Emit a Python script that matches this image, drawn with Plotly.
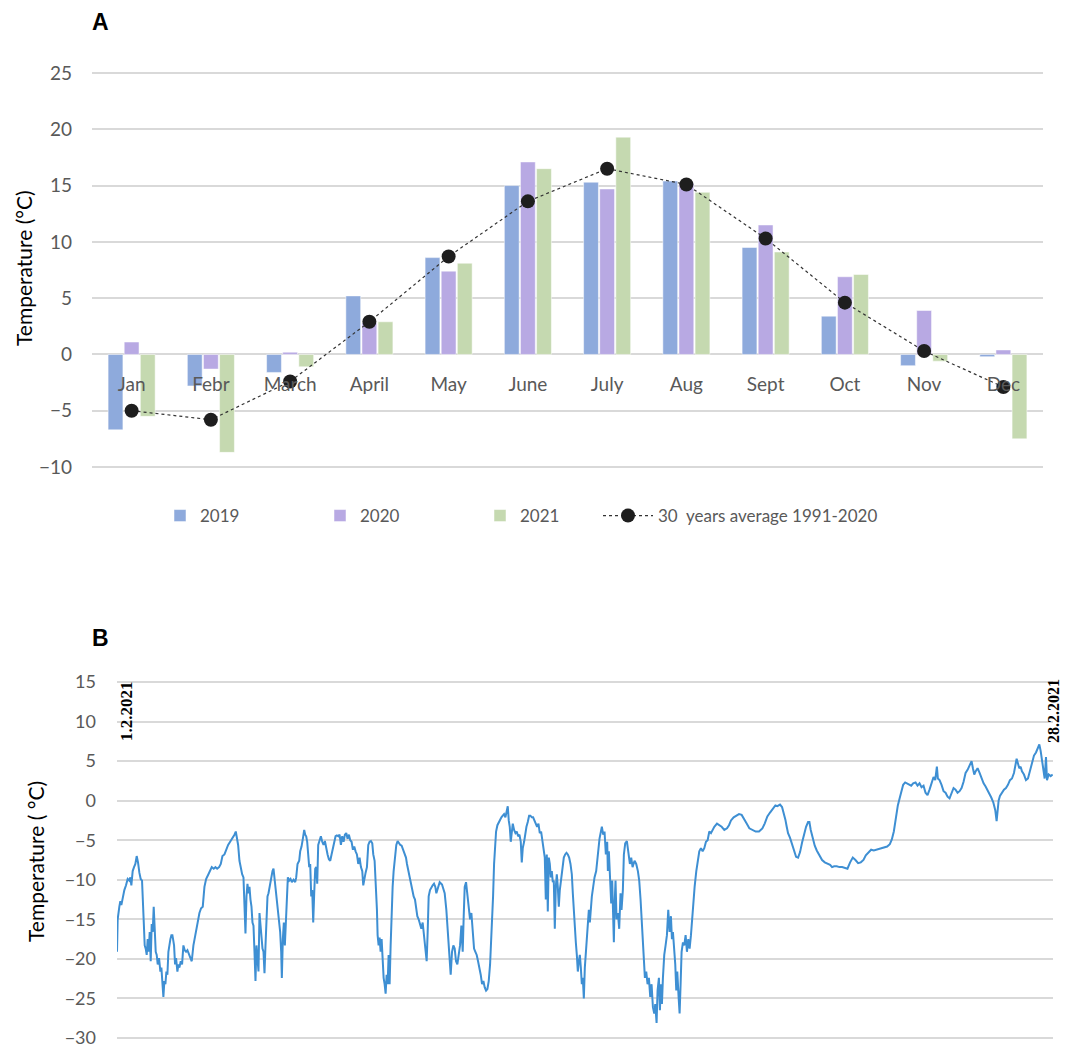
import plotly.graph_objects as go

# ---------------- Panel A data ----------------
months = ["Jan", "Febr", "March", "April", "May", "June", "July", "Aug", "Sept", "Oct", "Nov", "Dec"]
t2019 = [-6.7, -2.8, -1.6, 5.2, 8.6, 15.0, 15.3, 15.4, 9.5, 3.4, -1.0, -0.2]
t2020 = [1.1, -1.3, 0.2, 2.8, 7.4, 17.1, 14.7, 15.2, 11.5, 6.9, 3.9, 0.4]
t2021 = [-5.5, -8.7, -1.1, 2.9, 8.1, 16.5, 19.3, 14.4, 9.1, 7.1, -0.6, -7.5]
avg_1991_2020 = [-5.0, -5.8, -2.4, 2.9, 8.7, 13.6, 16.5, 15.1, 10.3, 4.6, 0.3, -2.9]
yticks_a = [-10, -5, 0, 5, 10, 15, 20, 25]

# ---------------- Panel B data (February 2021, days since 1.2.2021) ----------------
days = [
    0.00, 0.02, 0.07, 0.10, 0.13, 0.17, 0.22, 0.27, 0.32, 0.37, 0.40, 0.43, 0.47, 0.51, 0.55, 0.59, 0.63, 0.67, 0.71, 0.75,
    0.78, 0.81, 0.83, 0.86, 0.89, 0.92, 0.95, 0.98, 1.01, 1.04, 1.07, 1.10, 1.13, 1.16, 1.19, 1.22, 1.26, 1.30, 1.33, 1.36,
    1.39, 1.42, 1.45, 1.48, 1.51, 1.54, 1.57, 1.60, 1.63, 1.66, 1.68, 1.71, 1.74, 1.77, 1.81, 1.84, 1.87, 1.91, 1.95, 1.99,
    2.03, 2.07, 2.11, 2.15, 2.19, 2.24, 2.29, 2.33, 2.37, 2.42, 2.47, 2.52, 2.57, 2.62, 2.67, 2.74, 2.79, 2.84, 2.90, 2.95,
    3.00, 3.06, 3.11, 3.16, 3.22, 3.27, 3.33, 3.39, 3.46, 3.52, 3.56, 3.59, 3.63, 3.67, 3.71, 3.75, 3.79, 3.82, 3.85, 3.88,
    3.91, 3.94, 3.97, 4.00, 4.03, 4.06, 4.09, 4.12, 4.15, 4.18, 4.21, 4.24, 4.27, 4.30, 4.33, 4.36, 4.39, 4.42, 4.45, 4.48,
    4.51, 4.54, 4.57, 4.60, 4.63, 4.66, 4.69, 4.72, 4.75, 4.79,
    4.84, 4.89, 4.92, 4.94, 4.97, 5.00, 5.03, 5.06, 5.09, 5.12, 5.16, 5.20, 5.24, 5.29, 5.34, 5.37, 5.41, 5.46, 5.49, 5.53,
    5.57, 5.61, 5.64, 5.67, 5.70, 5.73, 5.76, 5.79, 5.82, 5.85, 5.88, 5.91, 5.94, 5.97, 6.00, 6.03, 6.07, 6.11, 6.15, 6.19,
    6.23, 6.27, 6.31, 6.35, 6.39, 6.43, 6.47, 6.51, 6.55, 6.59, 6.63, 6.67, 6.71, 6.75, 6.79, 6.83, 6.87, 6.91, 6.95, 6.99,
    7.03, 7.07, 7.11, 7.15, 7.19, 7.23, 7.27, 7.31, 7.35, 7.38, 7.41, 7.45, 7.49, 7.53, 7.57, 7.61, 7.65, 7.68, 7.72, 7.76,
    7.79, 7.81, 7.84, 7.87, 7.90, 7.93, 7.96, 7.99, 8.02, 8.05, 8.08, 8.11, 8.14, 8.17, 8.20, 8.23, 8.26, 8.29, 8.33, 8.37,
    8.41, 8.45, 8.49, 8.53, 8.57, 8.61, 8.66, 8.69, 8.73, 8.77, 8.81, 8.85, 8.89, 8.93, 8.96, 9.00, 9.04, 9.08, 9.12, 9.16,
    9.19, 9.22, 9.25, 9.28, 9.31, 9.34, 9.38, 9.42, 9.46, 9.50, 9.54, 9.57,
    9.67, 9.74, 9.82, 9.87, 9.92, 9.97, 10.00, 10.04, 10.08, 10.12, 10.16, 10.20, 10.24, 10.28, 10.32, 10.36, 10.39, 10.42,
    10.46, 10.50, 10.54, 10.58, 10.62, 10.66, 10.70, 10.74, 10.78, 10.82, 10.86, 10.90, 10.94, 10.98, 11.02, 11.06, 11.10,
    11.14, 11.18, 11.21, 11.24, 11.27, 11.30, 11.33, 11.36, 11.40, 11.44, 11.48, 11.52, 11.56, 11.60, 11.64, 11.68, 11.71,
    11.74, 11.77, 11.80, 11.83, 11.86, 11.90, 11.94, 11.98, 12.02, 12.06, 12.10, 12.13, 12.16, 12.20, 12.23, 12.27, 12.31,
    12.35, 12.39, 12.43, 12.47, 12.51, 12.55, 12.59, 12.63, 12.67, 12.71, 12.75, 12.79, 12.82, 12.85, 12.88, 12.91, 12.94,
    12.97, 13.00, 13.03, 13.06, 13.09, 13.12, 13.15, 13.18, 13.21, 13.24, 13.27, 13.31, 13.35, 13.39, 13.43, 13.47, 13.51,
    13.55, 13.59, 13.63, 13.66, 13.69, 13.72, 13.75, 13.78, 13.81, 13.84, 13.87, 13.90, 13.93, 13.96, 13.99, 14.02, 14.05,
    14.08, 14.11, 14.14, 14.17, 14.20, 14.23, 14.27, 14.31, 14.36,
    14.41, 14.46, 14.53, 14.57, 14.61, 14.65, 14.69, 14.71, 14.74, 14.78, 14.81, 14.84, 14.87, 14.89, 14.91, 14.94, 14.97,
    15.01, 15.05, 15.09, 15.12, 15.16, 15.19, 15.23, 15.28, 15.32, 15.37, 15.41, 15.45, 15.51, 15.56, 15.61, 15.65, 15.69,
    15.72, 15.75, 15.78, 15.82, 15.86, 15.90, 15.94, 15.98, 16.02, 16.06, 16.10, 16.13, 16.17, 16.20, 16.24, 16.27, 16.30,
    16.33, 16.36, 16.40, 16.44, 16.48, 16.52, 16.56, 16.60, 16.63, 16.66, 16.70, 16.73, 16.76, 16.79, 16.83, 16.86, 16.89,
    16.92, 16.96, 17.00, 17.04, 17.08, 17.12, 17.16, 17.20, 17.23, 17.27, 17.31, 17.36, 17.40, 17.45, 17.50, 17.55, 17.60,
    17.65, 17.70, 17.75, 17.80, 17.85, 17.90, 17.98, 18.05, 18.12, 18.20, 18.28, 18.34, 18.40, 18.48, 18.56, 18.64, 18.72,
    18.80, 18.87, 18.95, 19.03, 19.14,
    19.24, 19.34, 19.41, 19.49, 19.57, 19.65, 19.73, 19.79, 19.87, 19.93, 19.99, 20.03, 20.07, 20.11, 20.17, 20.23, 20.29,
    20.35, 20.41, 20.47, 20.53, 20.59, 20.65, 20.71, 20.75, 20.79, 20.85, 20.91, 20.97, 21.05, 21.13, 21.21, 21.29, 21.37,
    21.43, 21.49, 21.57, 21.65, 21.73, 21.81, 21.89, 21.97, 22.05, 22.13, 22.21, 22.29, 22.37, 22.44, 22.52, 22.60, 22.68,
    22.76, 22.84, 22.92, 23.00, 23.08, 23.16, 23.22, 23.28, 23.32, 23.36, 23.40, 23.46, 23.50, 23.56, 23.62, 23.68, 23.74,
    23.80, 23.86, 23.93,
    23.99, 24.05, 24.11, 24.17, 24.23, 24.29, 24.35, 24.41, 24.47, 24.52, 24.57, 24.60, 24.65, 24.71, 24.77, 24.83, 24.89,
    24.95, 25.01, 25.07, 25.13, 25.19, 25.25, 25.31, 25.37, 25.43, 25.49, 25.55, 25.61, 25.65, 25.69, 25.73, 25.79, 25.85,
    25.91, 25.97, 26.03, 26.08, 26.14, 26.20, 26.26, 26.32, 26.36, 26.39, 26.42, 26.46, 26.52, 26.58, 26.64, 26.70, 26.76,
    26.82, 26.88, 26.92, 26.96, 27.00, 27.04, 27.08, 27.12, 27.18, 27.24, 27.30, 27.36, 27.42, 27.48, 27.54, 27.60, 27.64,
    27.68, 27.72, 27.76, 27.80, 27.84, 27.87, 27.92, 27.98, 28.04,
]
temps = [
    -19.1, -15.0, -13.4, -12.7, -13.2, -12.1, -11.3, -10.7, -9.9, -10.1, -9.7, -10.7, -8.9, -8.4, -8.0, -7.0, -7.8, -9.1, -9.9, -10.1,
    -14.6, -16.2, -18.3, -18.7, -19.5, -17.5, -19.1, -16.6, -20.3, -15.6, -16.6, -13.4, -16.2, -19.1, -19.5, -20.7, -19.9, -21.6, -21.1, -22.8,
    -24.8, -22.8, -23.2, -21.6, -22.0, -19.1, -17.9, -17.5, -17.0, -17.0, -17.5, -18.3, -20.7, -19.9, -21.6, -20.7, -21.1, -20.3, -20.7, -18.3,
    -18.9, -19.1, -18.9, -19.3, -19.7, -20.3, -18.3, -17.3, -16.6, -15.6, -14.2, -13.6, -13.4, -10.9, -9.9, -9.3, -8.9, -8.4, -8.6, -8.4,
    -8.6, -8.4, -8.0, -7.0, -6.8, -6.2, -5.6, -5.2, -4.8, -4.3, -3.9, -4.5, -5.6, -7.6, -8.6, -9.3, -9.7, -13.4, -16.8, -12.1,
    -10.5, -11.7, -10.9, -12.5, -13.4, -15.4, -15.8, -19.1, -22.8, -18.3, -19.9, -21.6, -14.2, -16.2, -17.5, -18.7, -19.1, -21.8, -18.3, -15.8,
    -12.1, -11.7, -10.9, -10.1, -9.3, -8.9, -8.6, -9.9, -10.9, -12.1,
    -15.0, -16.6, -19.1, -22.4, -17.5, -15.4, -18.3, -14.6, -11.7, -9.7, -10.1, -9.9, -10.3, -10.0, -10.3, -9.7, -8.0, -7.6, -6.4, -5.8,
    -4.8, -3.7, -4.3, -4.5, -5.2, -6.4, -8.4, -8.0, -12.1, -11.3, -15.4, -11.7, -8.6, -8.4, -10.5, -5.6, -5.0, -4.5, -5.2, -5.6,
    -5.1, -6.2, -6.8, -7.4, -7.6, -6.8, -6.0, -5.2, -4.5, -4.4, -4.5, -4.3, -5.6, -4.5, -5.2, -4.3, -4.1, -4.8, -4.3, -5.0,
    -5.2, -6.2, -5.8, -6.4, -6.8, -8.0, -7.2, -8.4, -8.9, -10.7, -9.9, -9.1, -8.4, -5.6, -5.2, -5.1, -5.4, -6.8, -7.6, -10.5,
    -13.8, -17.0, -18.3, -17.3, -19.1, -17.5, -20.7, -22.4, -23.2, -24.4, -22.0, -23.2, -19.5, -23.2, -18.3, -13.8, -10.9, -8.9, -6.8, -5.6,
    -5.1, -5.4, -5.6, -5.7, -6.2, -6.6, -7.2, -8.0, -8.9, -9.7, -10.7, -11.7, -12.1, -12.5, -13.4, -14.6, -15.0, -15.8, -16.2, -15.4,
    -16.8, -17.5, -19.1, -20.3, -16.6, -12.1, -11.3, -10.9, -10.7, -10.5, -10.9, -11.7,
    -10.3, -10.6, -11.7, -13.8, -17.5, -19.9, -22.0, -19.1, -18.3, -18.7, -20.3, -20.7, -19.1, -18.3, -15.8, -19.1, -14.6, -10.9,
    -10.3, -11.7, -13.8, -15.0, -14.2, -16.2, -18.7, -19.1, -19.5, -20.3, -21.1, -22.0, -23.2, -22.8, -23.6, -24.0, -23.8,
    -22.8, -20.7, -18.3, -15.8, -12.1, -8.0, -5.2, -3.9, -3.1, -2.7, -2.5, -2.1, -1.9, -1.7, -2.1, -1.3, -0.7,
    -2.5, -3.3, -5.2, -3.5, -2.9, -3.7, -4.1, -3.9, -4.5, -4.3, -5.2, -7.8, -6.0, -5.2, -4.3, -3.3, -2.7,
    -1.9, -1.9, -2.1, -2.1, -2.5, -2.7, -3.3, -2.9, -4.1, -3.9, -5.4, -6.4, -7.2, -12.5, -6.8, -14.0, -7.2,
    -8.0, -9.7, -8.9, -10.3, -10.1, -16.2, -10.9, -9.3, -10.9, -13.4, -11.3, -10.1, -8.4, -7.2, -6.8, -6.6, -6.8,
    -7.2, -8.0, -9.3, -11.7, -14.2, -16.2, -17.9, -19.5, -21.6, -20.3, -19.5, -21.1, -23.2, -22.4, -25.0, -21.1, -19.1,
    -16.6, -15.8, -13.8, -15.4, -13.0, -12.1, -10.9, -9.7, -8.9,
    -6.8, -4.8, -3.3, -4.3, -3.9, -6.8, -5.2, -8.9, -6.4, -10.9, -13.0, -10.1, -15.0, -17.9, -13.4, -10.1, -15.0,
    -14.2, -16.2, -11.7, -13.8, -11.3, -6.8, -5.4, -5.1, -6.4, -8.0, -7.2, -8.4, -7.6, -8.0, -8.9, -10.1, -12.5,
    -15.0, -16.6, -20.3, -22.4, -21.6, -23.2, -22.4, -24.8, -23.2, -26.1, -26.9, -25.7, -28.1, -24.0, -22.4, -26.5, -23.2,
    -25.7, -22.4, -19.5, -18.3, -17.0, -13.8, -16.6, -14.6, -17.5, -16.6, -19.1, -20.7, -24.0, -21.6, -24.8, -26.9, -23.2,
    -19.1, -17.9, -18.3, -17.0, -19.1, -17.5, -18.7, -17.0, -15.0, -13.0, -10.9, -8.9, -7.6, -6.4, -6.0, -6.4, -6.0,
    -5.2, -5.0, -3.9, -4.1, -3.7, -3.3, -2.9, -3.1, -3.3, -3.7, -3.5, -3.1, -2.5, -2.1, -1.9, -1.7, -1.8,
    -2.3, -2.9, -3.5, -3.7, -3.9,
    -3.9, -3.5, -2.9, -2.0, -1.5, -1.0, -0.6, -0.7, -0.5, -0.8, -1.6, -2.4, -3.3, -4.1, -4.7, -5.5, -6.3,
    -7.1, -7.2, -6.5, -5.3, -4.3, -3.3, -2.7, -2.7, -3.7, -4.7, -5.7, -6.3, -6.9, -7.5, -7.8, -8.0, -8.1,
    -8.4, -8.3, -8.3, -8.4, -8.4, -8.5, -8.6, -7.8, -7.2, -7.5, -7.9, -7.8, -7.5, -6.9, -6.5, -6.2, -6.3,
    -6.2, -6.1, -6.0, -5.9, -5.8, -5.5, -4.9, -3.9, -2.7, -1.4, -0.6, 0.4, 1.2, 2.0, 2.3, 2.2, 2.1,
    1.9, 2.2, 2.3,
    1.9, 2.2, 1.7, 1.9, 1.0, 0.7, 1.4, 2.2, 3.0, 2.6, 4.3, 2.8, 2.6, 2.0, 1.2, 1.0, 0.5,
    0.3, 1.0, 1.6, 1.4, 1.0, 1.2, 1.6, 2.4, 3.5, 3.9, 4.5, 5.0, 4.1, 3.3, 3.7, 4.1, 3.5,
    2.8, 2.2, 1.8, 1.4, 1.0, 0.4, -0.2, -1.2, -2.6, -1.0, 0.0, 0.6, 1.0, 1.4, 1.6, 2.0, 2.6,
    2.8, 3.5, 4.3, 5.3, 4.7, 4.1, 4.3, 3.7, 3.3, 2.6, 2.8, 3.7, 4.7, 5.7, 6.1, 6.7, 7.1,
    6.3, 5.1, 3.5, 2.8, 5.5, 2.6, 3.3, 3.1, 3.3,
]
yticks_b = [-30, -25, -20, -15, -10, -5, 0, 5, 10, 15]

# page body has an 8px margin: keep the figure inside the 1071x1057 window
OFF = 8
W, H = 1055, 1041
def px_x(p):
    return (p - OFF) / W
def px_y(p):
    return 1 - (p - OFF) / H

FONT = "Lato, Carlito, 'Open Sans', sans-serif"
GRID = "#D9D9D9"
TICKC = "#595959"

# y scales: value range ends at pixel rows, padded a little so the edge gridlines are drawn
A_LO, A_HI, A_PLO, A_PHI = -10, 25, 467, 73
B_LO, B_HI, B_PLO, B_PHI = -30, 15, 1038, 682
PAD = 0.25
a_ppu = (A_PLO - A_PHI) / (A_HI - A_LO)
b_ppu = (B_PLO - B_PHI) / (B_HI - B_LO)

fig = go.Figure()

fig.add_trace(go.Bar(name="2019", x=months, y=t2019, marker=dict(color="#8EAADC", line=dict(color="white", width=0.5)),
                     xaxis="x", yaxis="y", legend="legend"))
fig.add_trace(go.Bar(name="2020", x=months, y=t2020, marker=dict(color="#B8A9E3", line=dict(color="white", width=0.5)),
                     xaxis="x", yaxis="y", legend="legend"))
fig.add_trace(go.Bar(name="2021", x=months, y=t2021, marker=dict(color="#C5D9B0", line=dict(color="white", width=0.5)),
                     xaxis="x", yaxis="y", legend="legend"))
fig.add_trace(go.Scatter(name="30  years average 1991-2020", x=months, y=avg_1991_2020, mode="lines+markers",
                         line=dict(color="#333333", width=1.2, dash="dot"),
                         marker=dict(color="#1E1E1E", size=14, symbol="circle"),
                         xaxis="x", yaxis="y", legend="legend2"))

fig.add_trace(go.Scatter(x=days, y=temps, mode="lines", line=dict(color="#3E8FD3", width=2),
                         showlegend=False, xaxis="x2", yaxis="y2"))

zero_pos = px_y(354)

fig.update_layout(
    width=W, height=H,
    margin=dict(l=0, r=0, t=0, b=0, autoexpand=False),
    paper_bgcolor="white", plot_bgcolor="white",
    font=dict(family=FONT, color=TICKC),
    barmode="group", bargap=0.39, bargroupgap=0.08,
    showlegend=True,
    legend=dict(orientation="h", x=px_x(160), y=px_y(516), xanchor="left", yanchor="middle",
                font=dict(size=17, color=TICKC, family=FONT), entrywidth=115, entrywidthmode="pixels",
                bgcolor="rgba(0,0,0,0)", traceorder="normal"),
    legend2=dict(orientation="h", x=px_x(598), y=px_y(516), xanchor="left", yanchor="middle",
                 font=dict(size=17, color=TICKC, family=FONT), itemwidth=50,
                 bgcolor="rgba(0,0,0,0)"),
    xaxis=dict(domain=[px_x(92), px_x(1043)], anchor="free", position=zero_pos, range=[-0.5, 11.5],
               showgrid=False, showline=False, ticks="", ticklabelstandoff=17, automargin=False,
               tickfont=dict(size=19, color=TICKC), zeroline=False),
    yaxis=dict(domain=[px_y(A_PLO + PAD * a_ppu), px_y(A_PHI - PAD * a_ppu)],
               range=[A_LO - PAD, A_HI + PAD], tickvals=yticks_a, automargin=False,
               showgrid=True, gridcolor=GRID, gridwidth=1.6, zeroline=True, zerolinecolor=GRID, zerolinewidth=1.6,
               showline=False, ticks="", tickfont=dict(size=19, color=TICKC), ticklabelstandoff=19),
    xaxis2=dict(domain=[px_x(117), px_x(1053)], anchor="y2", range=[0, 28.05], automargin=False,
                showgrid=False, showline=False, showticklabels=False, ticks="", zeroline=False),
    yaxis2=dict(domain=[px_y(B_PLO + PAD * b_ppu), px_y(B_PHI - PAD * b_ppu)],
                anchor="x2", range=[B_LO - PAD, B_HI + PAD], tickvals=yticks_b, automargin=False,
                showgrid=True, gridcolor=GRID, gridwidth=1.6, zeroline=False, ticklabeloverflow="allow",
                showline=False, ticks="", tickfont=dict(size=18, color=TICKC), ticklabelstandoff=20),
)

annots = [
    dict(text="<b>A</b>", x=px_x(90), y=px_y(22), xanchor="left", yanchor="middle",
         font=dict(size=23, color="black", family="Liberation Sans, Arial, sans-serif")),
    dict(text="<b>B</b>", x=px_x(90), y=px_y(638), xanchor="left", yanchor="middle",
         font=dict(size=23, color="black", family="Liberation Sans, Arial, sans-serif")),
    dict(text="Temperature (°C)", x=px_x(23), y=px_y(268), textangle=-90, xanchor="center", yanchor="middle",
         font=dict(size=21, color="black", family=FONT)),
    dict(text="Temperature ( °C)", x=px_x(35), y=px_y(862), textangle=-90, xanchor="center", yanchor="middle",
         font=dict(size=21, color="black", family=FONT)),
    dict(text="<b>1.2.2021</b>", x=px_x(126), y=px_y(711), textangle=-90, xanchor="center", yanchor="middle",
         font=dict(size=17, color="black", family="Liberation Serif, 'Times New Roman', serif")),
    dict(text="<b>28.2.2021</b>", x=px_x(1053), y=px_y(711), textangle=-90, xanchor="center", yanchor="middle",
         font=dict(size=16, color="black", family="Liberation Serif, 'Times New Roman', serif")),
]
for a in annots:
    a.update(xref="paper", yref="paper", showarrow=False)
fig.update_layout(annotations=annots)

fig.write_html("out.html")
